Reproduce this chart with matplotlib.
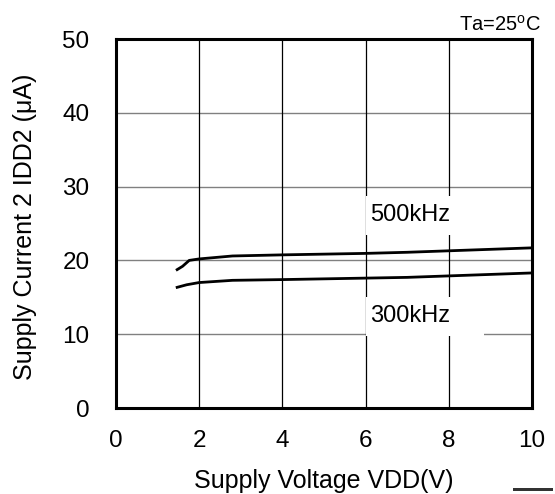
import matplotlib
matplotlib.use("Agg")
import matplotlib.pyplot as plt
from matplotlib.patches import Rectangle

plt.rcParams['font.family'] = ['Liberation Sans', 'DejaVu Sans']
plt.rcParams['mathtext.fontset'] = 'custom'
plt.rcParams['mathtext.rm'] = 'Liberation Sans'

vdd_500 = [1.47, 1.6, 1.76, 2.0, 2.4, 2.8, 4.0, 5.0, 6.0, 7.0, 8.0, 9.0, 10.0]
idd_500 = [18.75, 19.2, 20.0, 20.2, 20.4, 20.6, 20.75, 20.85, 20.95, 21.1, 21.3, 21.5, 21.7]
vdd_300 = [1.47, 1.7, 2.0, 2.4, 2.8, 4.0, 5.0, 6.0, 7.0, 8.0, 9.0, 10.0]
idd_300 = [16.35, 16.7, 17.0, 17.15, 17.3, 17.4, 17.5, 17.6, 17.7, 17.9, 18.1, 18.3]

xticks = [0, 2, 4, 6, 8, 10]
yticks = [0, 10, 20, 30, 40, 50]

fig = plt.figure(figsize=(5.55, 4.94), dpi=100)
ax = fig.add_axes([116 / 555, 1 - 408 / 494, 416 / 555, 369 / 494])

for y in yticks[1:-1]:
    ax.axhline(y, color='#808080', lw=1.0, zorder=1)
for x in xticks[1:-1]:
    ax.axvline(x, color='black', lw=0.9, zorder=1)

# white boxes behind the labels
ax.add_patch(Rectangle((6.0, 23.5), 2.85, 5.2, facecolor='white', edgecolor='none', zorder=2))
ax.add_patch(Rectangle((6.0, 9.8), 2.85, 5.3, facecolor='white', edgecolor='none', zorder=2))

ax.plot(vdd_500, idd_500, color='black', lw=2.0, zorder=3)
ax.plot(vdd_300, idd_300, color='black', lw=2.0, zorder=3)

ax.text(7.08, 26.5, '500kHz', fontsize=17, ha='center', va='center_baseline', zorder=4)
ax.text(7.08, 12.8, '300kHz', fontsize=17, ha='center', va='center_baseline', zorder=4)

ax.set_xlim(0, 10)
ax.set_ylim(0, 50)
ax.set_xticks(xticks)
ax.set_yticks(yticks)
ax.tick_params(length=0, labelsize=17.5)
ax.tick_params(axis='y', pad=19)
ax.tick_params(axis='x', pad=16)
for s in ax.spines.values():
    s.set_linewidth(2.2)

ax.set_xlabel('Supply Voltage VDD(V)', fontsize=18)
ax.set_ylabel('Supply Current 2 IDD2 (\u03bcA)', fontsize=18)
ax.xaxis.set_label_coords(0.5, -0.165)
ax.yaxis.set_label_coords(-0.19, 0.49)

fig.text(541 / 555, 1 - 25 / 494, 'Ta=25$^{\\mathrm{o}}$C', fontsize=14.5, ha='right', va='center')

# small stray mark in the bottom-right corner of the original
fig.patches.append(Rectangle((513 / 555, 1 - 491 / 494), 40 / 555, 3 / 494,
                             transform=fig.transFigure, facecolor='#333333',
                             edgecolor='none'))

fig.savefig('out.png', dpi=100)
